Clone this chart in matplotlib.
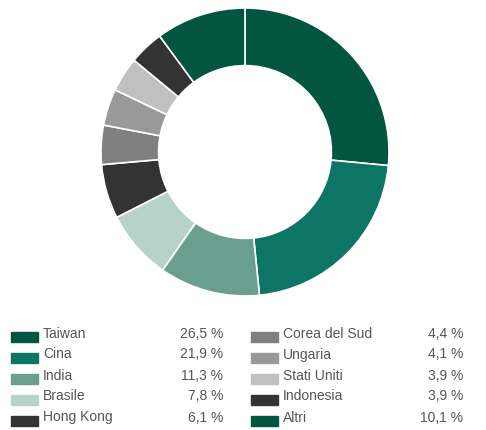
import matplotlib.pyplot as plt
from matplotlib.patches import Rectangle

labels = ['Taiwan', 'Cina', 'India', 'Brasile', 'Hong Kong',
          'Corea del Sud', 'Ungaria', 'Stati Uniti', 'Indonesia', 'Altri']
values = [26.5, 21.9, 11.3, 7.8, 6.1, 4.4, 4.1, 3.9, 3.9, 10.1]
colors = ['#02553f', '#0c7564', '#6a9e8e', '#b7d3c9', '#333333',
          '#808080', '#999999', '#c0c0c0', '#333333', '#02553f']

W, H = 486, 430
fig = plt.figure(figsize=(W / 100, H / 100), dpi=100)
plt.rcParams['font.family'] = ['Liberation Sans', 'DejaVu Sans']

# donut
ax = fig.add_axes([101 / W, 1 - 296 / H, 288 / W, 288 / H])
ax.pie(values, colors=colors, startangle=90, counterclock=False,
       wedgeprops={'width': 0.4, 'edgecolor': 'w', 'linewidth': 1.2})
ax.set_xlim(-1, 1)
ax.set_ylim(-1, 1)
ax.set_aspect('equal')

# legend in two columns
def fmt(v):
    return '{:.1f} %'.format(v).replace('.', ',')

for i, (lab, v, c) in enumerate(zip(labels, values, colors)):
    col, row = divmod(i, 5)
    x0 = 11 + col * 240
    top = 332 + row * 21
    fig.patches.append(Rectangle((x0 / W, 1 - (top + 10) / H), 27 / W, 10 / H,
                                 transform=fig.transFigure, color=c))
    yc = 1 - (top + 1.5) / H
    fig.text((x0 + 32) / W, yc, lab, fontsize=10, color='#555555', va='center')
    fig.text((x0 + 212) / W, yc, fmt(v), fontsize=10, color='#555555',
             va='center', ha='right')

fig.savefig('out.png', dpi=100)
